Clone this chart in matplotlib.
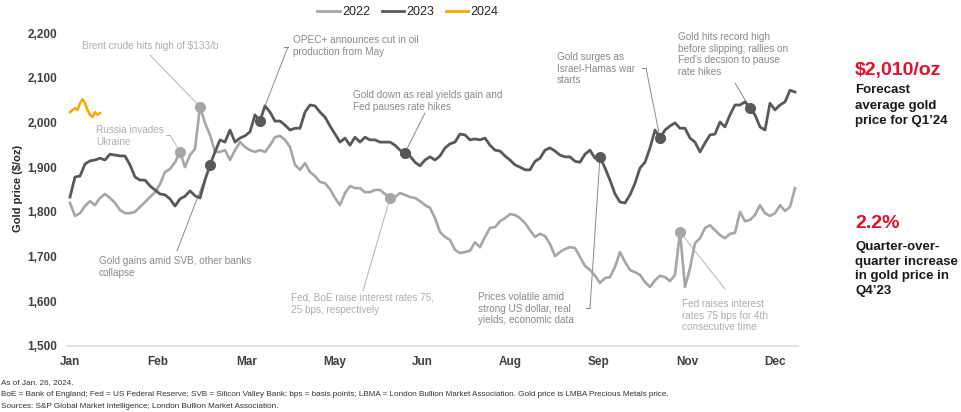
import matplotlib.pyplot as plt
from matplotlib.lines import Line2D
import numpy as np

# Gold price ($/oz), one reading per ~3 trading days from the first trading day of January
gold_2022 = [
    1820, 1791, 1797, 1813, 1824, 1815, 1831, 1840, 1831, 1820,
    1804, 1797, 1797, 1800, 1811, 1822, 1833, 1844, 1862, 1889,
    1896, 1911, 1934, 1900, 1927, 1941, 2035, 1999, 1972, 1934,
    1934, 1938, 1916, 1938, 1956, 1945, 1938, 1934, 1938, 1934,
    1949, 1967, 1970, 1961, 1945, 1905, 1894, 1909, 1889, 1880,
    1867, 1864, 1851, 1831, 1815, 1842, 1858, 1853, 1853, 1844,
    1844, 1849, 1849, 1840, 1831, 1833, 1842, 1838, 1833, 1831,
    1824, 1815, 1809, 1786, 1755, 1744, 1737, 1715, 1708, 1710,
    1713, 1732, 1721, 1744, 1764, 1766, 1779, 1786, 1795, 1793,
    1786, 1775, 1759, 1744, 1751, 1746, 1728, 1701, 1710, 1717,
    1721, 1719, 1699, 1679, 1670, 1657, 1641, 1652, 1654, 1677,
    1710, 1688, 1670, 1665, 1659, 1643, 1632, 1647, 1657, 1654,
    1645, 1659, 1755, 1632, 1674, 1730, 1741, 1764, 1770, 1759,
    1748, 1741, 1751, 1753, 1800, 1779, 1782, 1793, 1815, 1797,
    1791, 1797, 1815, 1802, 1811, 1853,
]
gold_2023 = [
    1833, 1878, 1880, 1907, 1914, 1916, 1920, 1916, 1929, 1927,
    1925, 1925, 1905, 1878, 1871, 1871, 1858, 1849, 1840, 1838,
    1829, 1813, 1829, 1835, 1847, 1836, 1831, 1871, 1905, 1934,
    1961, 1956, 1983, 1956, 1965, 1970, 1979, 2017, 2003, 2037,
    2023, 2003, 2003, 1994, 1983, 1987, 1987, 2023, 2039, 2037,
    2023, 2012, 1992, 1974, 1956, 1965, 1949, 1967, 1956, 1967,
    1961, 1961, 1956, 1956, 1956, 1949, 1938, 1932, 1925, 1911,
    1903, 1916, 1923, 1916, 1925, 1943, 1952, 1956, 1974, 1972,
    1961, 1963, 1961, 1965, 1949, 1938, 1936, 1925, 1916, 1905,
    1900, 1894, 1894, 1913, 1920, 1938, 1943, 1936, 1927, 1923,
    1923, 1913, 1911, 1929, 1938, 1920, 1923, 1898, 1871, 1840,
    1822, 1820, 1838, 1864, 1898, 1911, 1943, 1983, 1965, 1983,
    1992, 1999, 1987, 1987, 1965, 1956, 1934, 1954, 1972, 1974,
    2001, 1990, 2017, 2039, 2039, 2046, 2032, 2017, 1990, 1983,
    2043, 2028, 2039, 2046, 2072, 2068,
]
# January 2024 so far, read at half the spacing
gold_2024 = [2023, 2028, 2032, 2028, 2043, 2052, 2043, 2028, 2017, 2012, 2023, 2017, 2021]

months = ["Jan", "Feb", "Mar", "May", "Jun", "Aug", "Sep", "Nov", "Dec"]
month_pos = np.linspace(0, 141, len(months))

# event markers: (index, label)
events_2022 = [
    (22, "Russia invades\nUkraine"),
    (26, "Brent crude hits high of $133/b"),
    (64, "Fed, BoE raise interest rates 75,\n25 bps, respectively"),
    (122, "Fed raises interest\nrates 75 bps for 4th\nconsecutive time"),
]
events_2023 = [
    (28, "Gold gains amid SVB, other banks\ncollapse"),
    (39, "OPEC+ announces cut in oil\nproduction from May"),
    (67, "Gold down as real yields gain and\nFed pauses rate hikes"),
    (106, "Prices volatile amid\nstrong US dollar, real\nyields, economic data"),
    (118, "Gold surges as\nIsrael-Hamas war\nstarts"),
    (136, "Gold hits record high\nbefore slipping; rallies on\nFed's decsion to pause\nrate hikes"),
]

c22, c23, c24 = "#A6A6A6", "#595959", "#F5A800"
txt22, txt23 = "#ADADAD", "#8A8A8A"
red = "#E0112B"

plt.rcParams["font.family"] = ["Liberation Sans", "DejaVu Sans"]

W, H = 961, 412
fig = plt.figure(figsize=(W / 100, H / 100), dpi=100)
ax = fig.add_axes([68 / W, 1 - 346 / H, 730 / W, 313 / H])


def fpx(px, py):
    return (px / W, 1 - py / H)


x22 = np.arange(len(gold_2022))
x23 = np.arange(len(gold_2023))
x24 = np.arange(len(gold_2024)) * 0.5

ax.plot(x22, gold_2022, color=c22, lw=1.9, solid_joinstyle="round", zorder=2)
ax.plot(x23, gold_2023, color=c23, lw=2.0, solid_joinstyle="round", zorder=3)
ax.plot(x24, gold_2024, color=c24, lw=1.8, solid_joinstyle="round", zorder=3)

# marker points (the OPEC+ dot sits just before the spike its label points to)
m22 = [i for i, _ in events_2022]
ax.plot(m22, [gold_2022[i] for i in m22], "o", color=c22, ms=7, zorder=4)
m23 = [i for i, _ in events_2023 if i != 39] + [38]
ax.plot(m23, [gold_2023[i] for i in m23], "o", color=c23, ms=7, zorder=4)

ax.set_xlim(-0.4, 145.6)
ax.set_ylim(1500, 2200)
ax.set_yticks(range(1500, 2201, 100))
ax.set_yticklabels([f"{v:,}" for v in range(1500, 2201, 100)])
ax.set_xticks(month_pos)
ax.set_xticklabels(months)
ax.tick_params(length=0, labelsize=8.5, labelcolor="#404040")
ax.tick_params(axis="y", pad=8)
ax.tick_params(axis="x", pad=7)
for lab in ax.get_xticklabels() + ax.get_yticklabels():
    lab.set_fontweight("bold")
for s in ["top", "right", "left"]:
    ax.spines[s].set_visible(False)
ax.spines["bottom"].set_color("#E3E3E3")
ax.spines["bottom"].set_linewidth(1.5)

fig.text(18 / W, 1 - 188 / H, "Gold price ($/oz)", rotation=90, ha="center",
         va="center", fontsize=8, fontweight="bold", color="#262626")

# annotation text positions (px) and connector starts (px)
notes = [
    # (series, idx, text_xy, line_start, bracket, colour)
    (gold_2022, 22, (96, 125), (170, 135), True, txt22),
    (gold_2022, 26, (82, 41), (150, 55), False, txt22),
    (gold_2022, 64, (291, 293), (363, 291), False, txt22),
    (gold_2022, 122, (682, 299), (725, 289), False, txt22),
    (gold_2023, 28, (99, 256), (177, 251), False, txt23),
    (gold_2023, 39, (293, 35), (288, 47), True, txt23),
    (gold_2023, 67, (353, 90), (425, 113), False, txt23),
    (gold_2023, 106, (478, 292), (590, 308), True, txt23),
    (gold_2023, 118, (557, 52), (646, 68), True, txt23),
    (gold_2023, 136, (678, 32), (735, 83), False, txt23),
]
labels = dict(events_2022)
labels.update({("23", i): t for i, t in events_2023})
for series, idx, (tx, ty), (lx, ly), bracket, col in notes:
    key = idx if series is gold_2022 else ("23", idx)
    fig.text(tx / W, 1 - ty / H, labels[key], ha="left", va="top",
             fontsize=7.2, color=col, linespacing=1.2)
    lc = "#B5B5B5" if series is gold_2022 else "#8A8A8A"
    ax.annotate("", xy=(idx, series[idx]), xycoords="data",
                xytext=fpx(lx, ly), textcoords="figure fraction",
                arrowprops=dict(arrowstyle="-", color=lc, lw=0.7,
                                shrinkA=0, shrinkB=0), zorder=1)
    if bracket:
        fig.add_artist(Line2D([(lx - 4) / W, lx / W], [1 - ly / H, 1 - ly / H],
                              color=lc, lw=0.7))

# legend
handles = [Line2D([], [], color=c, lw=2) for c in (c22, c23, c24)]
fig.legend(handles, ["2022", "2023", "2024"], loc="center",
           bbox_to_anchor=(408 / W, 1 - 12 / H), ncol=3, frameon=False,
           fontsize=9, handlelength=1.8, handletextpad=0.2, columnspacing=0.9,
           labelcolor="#262626")

# side callouts
fig.text(855 / W, 1 - 71 / H, "$2,010/oz", fontsize=14, fontweight="bold",
         color=red, va="center", ha="left")
fig.text(855 / W, 1 - 84 / H, "Forecast\naverage gold\nprice for Q1\u201924",
         fontsize=9.5, fontweight="bold", color="#1A1A1A", va="top",
         ha="left", linespacing=1.4)
fig.text(855 / W, 1 - 224 / H, "2.2%", fontsize=14, fontweight="bold",
         color=red, va="center", ha="left")
fig.text(855 / W, 1 - 241 / H,
         "Quarter-over-\nquarter increase\nin gold price in\nQ4\u201923",
         fontsize=9.5, fontweight="bold", color="#1A1A1A", va="top",
         ha="left", linespacing=1.3)

# footnotes
foot = [
    "As of Jan. 26, 2024.",
    "BoE = Bank of England; Fed = US Federal Reserve; SVB = Silicon Valley Bank; "
    "bps = basis points; LBMA = London Bullion Market Association. "
    "Gold price is LMBA Precious Metals price.",
    "Sources: S&P Global Market Intelligence; London Bullion Market Association.",
]
for k, line in enumerate(foot):
    fig.text(1 / W, 1 - (383 + 11.5 * k) / H, line, fontsize=5.9,
             color="#333333", va="center", ha="left")

fig.savefig("out.png", dpi=100)
